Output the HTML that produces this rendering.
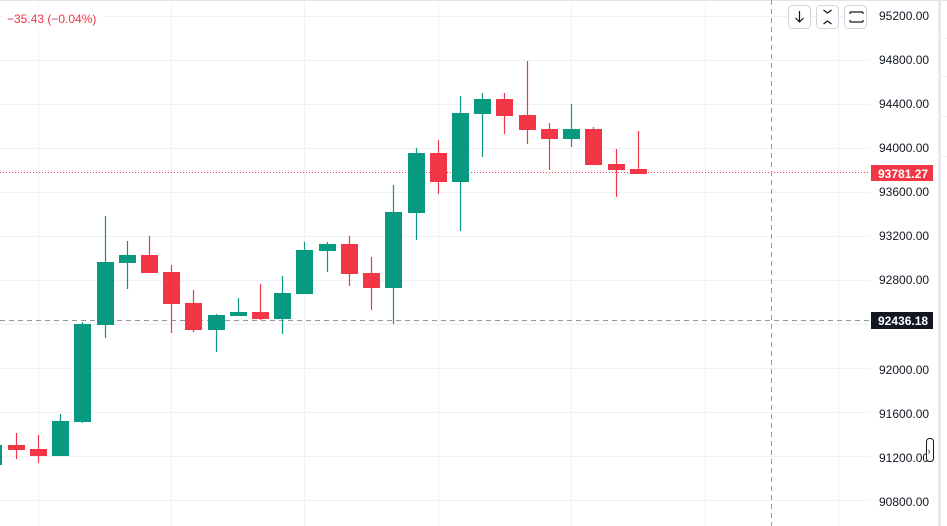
<!DOCTYPE html>
<html><head><meta charset="utf-8"><style>
html,body{margin:0;padding:0;background:#fff;width:947px;height:526px;overflow:hidden}
svg{display:block;font-family:"Liberation Sans",sans-serif}
</style></head><body>
<svg width="947" height="526" viewBox="0 0 947 526" xmlns="http://www.w3.org/2000/svg">
<rect width="947" height="526" fill="#fff"/>
<line x1="0" y1="0.5" x2="947" y2="0.5" stroke="#e0e3eb"/>
<g stroke="#f0f1f4" stroke-width="1">
<line x1="38.5" y1="0" x2="38.5" y2="526"/><line x1="171.5" y1="0" x2="171.5" y2="526"/>
<line x1="304.5" y1="0" x2="304.5" y2="526"/><line x1="438.5" y1="0" x2="438.5" y2="526"/>
<line x1="571.5" y1="0" x2="571.5" y2="526"/><line x1="705.5" y1="0" x2="705.5" y2="526"/>
<line x1="838.5" y1="0" x2="838.5" y2="526"/>
<line x1="0" y1="16.5" x2="870" y2="16.5"/><line x1="0" y1="60.5" x2="870" y2="60.5"/>
<line x1="0" y1="104.5" x2="870" y2="104.5"/><line x1="0" y1="148.5" x2="870" y2="148.5"/>
<line x1="0" y1="192.5" x2="870" y2="192.5"/><line x1="0" y1="236.5" x2="870" y2="236.5"/>
<line x1="0" y1="280.5" x2="870" y2="280.5"/><line x1="0" y1="324.5" x2="870" y2="324.5"/>
<line x1="0" y1="368.5" x2="870" y2="368.5"/><line x1="0" y1="412.5" x2="870" y2="412.5"/>
<line x1="0" y1="456.5" x2="870" y2="456.5"/><line x1="0" y1="500.5" x2="870" y2="500.5"/>
</g>
<line x1="0" y1="172.5" x2="870" y2="172.5" stroke="#f23645" stroke-dasharray="1 2"/>
<line x1="0" y1="320.5" x2="870" y2="320.5" stroke="#9598a1" stroke-dasharray="5 4"/>
<line x1="771.5" y1="0" x2="771.5" y2="526" stroke="#9598a1" stroke-dasharray="5 4"/>
<g id="c">
<rect x="0" y="445" width="2" height="20" fill="#089981"/>
</g>
<script>
</script>
<g stroke-width="1.2">
<!-- x, wt, wb, bt, bb, color -->
<g fill="#f23645" stroke="#f23645">
<line x1="16.5" y1="433" x2="16.5" y2="459"/><rect x="8" y="445" width="17" height="5" stroke="none"/>
<line x1="38.5" y1="435" x2="38.5" y2="463"/><rect x="30" y="449" width="17" height="7" stroke="none"/>
<line x1="149.5" y1="236" x2="149.5" y2="273"/><rect x="141" y="255" width="17" height="18" stroke="none"/>
<line x1="171.5" y1="265" x2="171.5" y2="333"/><rect x="163" y="272" width="17" height="32" stroke="none"/>
<line x1="193.5" y1="290" x2="193.5" y2="332"/><rect x="185" y="303" width="17" height="27" stroke="none"/>
<line x1="260.5" y1="284" x2="260.5" y2="320"/><rect x="252" y="312" width="17" height="7" stroke="none"/>
<line x1="349.5" y1="236" x2="349.5" y2="286"/><rect x="341" y="244" width="17" height="30" stroke="none"/>
<line x1="371.5" y1="257" x2="371.5" y2="310"/><rect x="363" y="273" width="17" height="15" stroke="none"/>
<line x1="438.5" y1="140" x2="438.5" y2="194"/><rect x="430" y="153" width="17" height="29" stroke="none"/>
<line x1="504.5" y1="93" x2="504.5" y2="134"/><rect x="496" y="99" width="17" height="17" stroke="none"/>
<line x1="527.5" y1="61" x2="527.5" y2="144"/><rect x="519" y="115" width="17" height="15" stroke="none"/>
<line x1="549.5" y1="123" x2="549.5" y2="170"/><rect x="541" y="129" width="17" height="10" stroke="none"/>
<line x1="593.5" y1="127" x2="593.5" y2="165"/><rect x="585" y="129" width="17" height="36" stroke="none"/>
<line x1="616.5" y1="149" x2="616.5" y2="197"/><rect x="608" y="164" width="17" height="6" stroke="none"/>
<line x1="638.5" y1="131" x2="638.5" y2="174"/><rect x="630" y="169" width="17" height="5" stroke="none"/>
</g>
<g fill="#089981" stroke="#089981">
<line x1="60.5" y1="414" x2="60.5" y2="456"/><rect x="52" y="421" width="17" height="35" stroke="none"/>
<line x1="82.5" y1="322" x2="82.5" y2="423"/><rect x="74" y="324" width="17" height="98" stroke="none"/>
<line x1="105.5" y1="216" x2="105.5" y2="338"/><rect x="97" y="262" width="17" height="63" stroke="none"/>
<line x1="127.5" y1="241" x2="127.5" y2="289"/><rect x="119" y="255" width="17" height="8" stroke="none"/>
<line x1="216.5" y1="314" x2="216.5" y2="352"/><rect x="208" y="315" width="17" height="15" stroke="none"/>
<line x1="238.5" y1="298" x2="238.5" y2="316"/><rect x="230" y="312" width="17" height="4" stroke="none"/>
<line x1="282.5" y1="276" x2="282.5" y2="334"/><rect x="274" y="293" width="17" height="26" stroke="none"/>
<line x1="304.5" y1="242" x2="304.5" y2="294"/><rect x="296" y="250" width="17" height="44" stroke="none"/>
<line x1="327.5" y1="242" x2="327.5" y2="272"/><rect x="319" y="244" width="17" height="7" stroke="none"/>
<line x1="393.5" y1="185" x2="393.5" y2="324"/><rect x="385" y="212" width="17" height="76" stroke="none"/>
<line x1="416.5" y1="148" x2="416.5" y2="240"/><rect x="408" y="153" width="17" height="60" stroke="none"/>
<line x1="460.5" y1="96" x2="460.5" y2="231"/><rect x="452" y="113" width="17" height="69" stroke="none"/>
<line x1="482.5" y1="93" x2="482.5" y2="157"/><rect x="474" y="99" width="17" height="15" stroke="none"/>
<line x1="571.5" y1="104" x2="571.5" y2="147"/><rect x="563" y="129" width="17" height="10" stroke="none"/>
</g>
</g>
<rect x="4" y="8" width="100" height="20" fill="#fff" opacity="0.85"/>
<text x="7" y="23" font-size="12" fill="#f23645">−35.43 (−0.04%)</text>
<g fill="#fff" stroke="#d1d4dc">
<rect x="788.5" y="5.5" width="22" height="23" rx="4"/>
<rect x="816.5" y="5.5" width="22" height="23" rx="4"/>
<rect x="844.5" y="5.5" width="22" height="23" rx="4"/>
</g>
<g stroke="#131722" stroke-width="1.2" fill="none">
<path d="M799.5 11v11M795.5 18l4 4 4-4"/>
<path d="M823.5 10l4 3 4-3M823.5 24l4-3 4 3"/>
<path d="M851 12h11a1 1 0 0 1 1 1v1M851 22h11a1 1 0 0 0 1-1v-1M851 12a1 1 0 0 0-1 1v1M851 22a1 1 0 0 1-1-1v-1"/>
</g>
<g font-size="12" fill="#131722">
<text x="879" y="20">95200.00</text><text x="879" y="64">94800.00</text>
<text x="879" y="108">94400.00</text><text x="879" y="152">94000.00</text>
<text x="879" y="196">93600.00</text><text x="879" y="240">93200.00</text>
<text x="879" y="284">92800.00</text>
<text x="879" y="374">92000.00</text><text x="879" y="418">91600.00</text>
<text x="879" y="462">91200.00</text><text x="879" y="506">90800.00</text>
</g>
<rect x="871" y="165" width="62" height="16" fill="#f23645"/>
<text x="878" y="178" font-size="12" font-weight="bold" fill="#fff">93781.27</text>
<rect x="871" y="312" width="62" height="17" fill="#131722"/>
<text x="878" y="325" font-size="12" font-weight="bold" fill="#fff">92436.18</text>
<rect x="926.5" y="438.5" width="7" height="23" rx="3" fill="#fff" stroke="#131722"/>
<text x="927.5" y="454" font-size="9" fill="#131722">›</text>
<rect x="938" y="0" width="3" height="526" fill="#e9e9ef"/>
<g stroke="#eef0f3"><line x1="941" y1="38.5" x2="947" y2="38.5"/><line x1="941" y1="76.5" x2="947" y2="76.5"/><line x1="941" y1="116.5" x2="947" y2="116.5"/><line x1="941" y1="156.5" x2="947" y2="156.5"/></g>
</svg>
</body></html>
